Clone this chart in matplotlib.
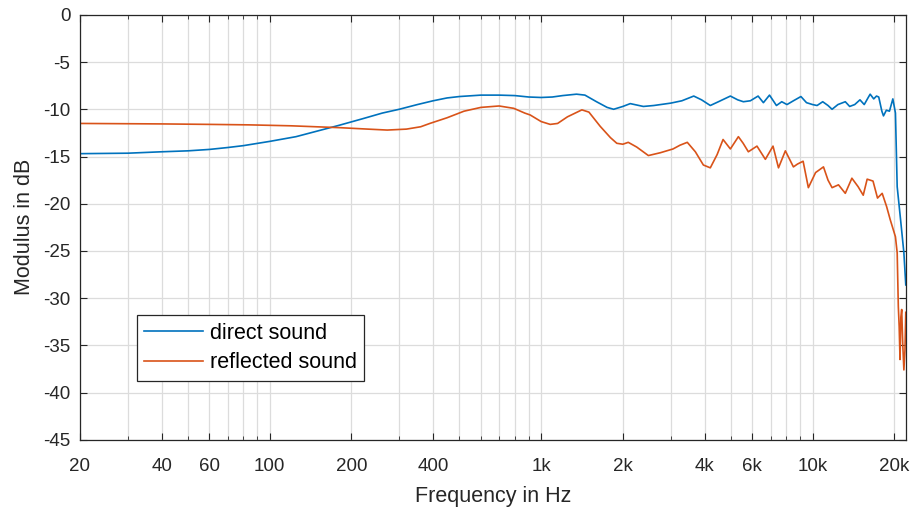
import numpy as np
import matplotlib.pyplot as plt
from matplotlib.ticker import FixedLocator, NullFormatter

plt.rcParams['font.family'] = ['Liberation Sans', 'DejaVu Sans']
plt.rcParams['axes.unicode_minus'] = False

# direct sound (blue)
f_direct = [20, 30, 40, 50, 60, 70, 80, 100, 125, 150, 180, 220, 260, 300, 350, 400,
            450, 500, 600, 700, 800, 900, 1000, 1100, 1200, 1350, 1450, 1600, 1750,
            1850, 2000, 2130, 2380, 2600, 3000, 3300, 3650, 3900, 4200, 4500, 4980,
            5300, 5560, 5900, 6300, 6590, 6940, 7360, 7700, 8050, 8500, 9060, 9500,
            10000, 10390, 10900, 11400, 11800, 12400, 13200, 13700, 14300, 14950,
            15500, 16000, 16300, 16800, 17200, 17530, 18000, 18250, 18700, 19200,
            19760, 20200, 20500, 21100, 21700, 22050]
db_direct = [-14.7, -14.65, -14.5, -14.4, -14.25, -14.05, -13.85, -13.4, -12.9, -12.3,
             -11.7, -11.0, -10.4, -10.0, -9.5, -9.1, -8.8, -8.65, -8.5, -8.5, -8.55,
             -8.7, -8.75, -8.7, -8.55, -8.4, -8.5, -9.2, -9.8, -10.0, -9.7, -9.4, -9.7,
             -9.6, -9.35, -9.1, -8.6, -9.0, -9.6, -9.2, -8.6, -9.0, -9.2, -9.1, -8.6,
             -9.3, -8.5, -9.6, -9.2, -9.5, -9.1, -8.65, -9.3, -9.5, -9.6, -9.2, -9.6,
             -10.0, -9.5, -9.2, -9.7, -9.5, -9.0, -9.5, -8.8, -8.4, -8.9, -8.6, -8.7,
             -10.2, -10.7, -10.1, -10.2, -8.9, -10.4, -18.2, -21.7, -25.2, -28.6]

# reflected sound (orange)
f_refl = [20, 40, 60, 84, 120, 182, 230, 271, 319, 360, 389, 450, 520, 600, 700, 793,
          870, 911, 1000, 1080, 1150, 1250, 1413, 1500, 1650, 1800, 1900, 2000, 2094,
          2250, 2484, 2750, 3062, 3250, 3455, 3700, 3960, 4200, 4450, 4680, 4980,
          5330, 5550, 5800, 6240, 6700, 7150, 7490, 7940, 8500, 8800, 9230, 9650,
          10260, 10970, 11400, 11800, 12460, 13200, 13960, 14720, 15370, 15890,
          16700, 17350, 18050, 18740, 19330, 20200, 20500, 20700, 20850, 21000,
          21150, 21300, 21500, 21700, 21900, 22050]
db_refl = [-11.5, -11.55, -11.6, -11.65, -11.75, -11.95, -12.1, -12.2, -12.1, -11.85,
           -11.5, -10.9, -10.2, -9.8, -9.65, -9.9, -10.4, -10.6, -11.3, -11.6, -11.5,
           -10.8, -10.06, -10.3, -11.8, -13.0, -13.6, -13.7, -13.5, -14.0, -14.9,
           -14.6, -14.2, -13.8, -13.5, -14.5, -15.9, -16.2, -14.8, -13.2, -14.2,
           -12.9, -13.6, -14.5, -13.9, -15.3, -13.9, -16.2, -14.4, -16.1, -15.8,
           -15.5, -18.3, -16.7, -16.1, -17.5, -18.3, -18.0, -18.9, -17.3, -18.2,
           -19.1, -17.4, -17.6, -19.4, -18.9, -20.3, -21.7, -23.5, -25.2, -30.9,
           -33.0, -36.5, -32.0, -31.2, -35.0, -37.6, -35.5, -31.5]

xticks = [20, 40, 60, 100, 200, 400, 1000, 2000, 4000, 6000, 10000, 20000]
xticklabels = ['20', '40', '60', '100', '200', '400', '1k', '2k', '4k', '6k', '10k', '20k']
minor_ticks = [30, 50, 70, 80, 90, 300, 500, 600, 700, 800, 900,
               3000, 5000, 7000, 8000, 9000]

fig = plt.figure(figsize=(9.14, 5.12), dpi=100)
ax = fig.add_axes([0.0875, 0.141, 0.9035, 0.830])

ax.plot(f_direct, db_direct, color='#0072BD', linewidth=1.2, label='direct sound')
ax.plot(f_refl, db_refl, color='#D95319', linewidth=1.2, label='reflected sound')

ax.set_xscale('log')
ax.set_xlim(20, 22050)
ax.set_ylim(-45, 0)
ax.xaxis.set_major_locator(FixedLocator(xticks))
ax.set_xticklabels(xticklabels)
ax.xaxis.set_minor_locator(FixedLocator(minor_ticks))
ax.xaxis.set_minor_formatter(NullFormatter())
ax.set_yticks(np.arange(-45, 1, 5))

ax.grid(True, which='both', color='#dcdcdc', linewidth=0.9)
ax.set_axisbelow(True)
ax.tick_params(which='both', direction='in', top=True, right=True, labelsize=13.5,
               color='#262626', labelcolor='#262626', length=5)
ax.tick_params(which='minor', length=3)
ax.tick_params(axis='x', which='major', pad=13)
ax.tick_params(axis='y', which='major', pad=7)
for s in ax.spines.values():
    s.set_color('#262626')
    s.set_linewidth(0.9)

ax.set_xlabel('Frequency in Hz', fontsize=15.5, color='#262626', labelpad=8)
ax.set_ylabel('Modulus in dB', fontsize=15.5, color='#262626', labelpad=6)

leg = ax.legend(loc='lower left', bbox_to_anchor=(0.069, 0.139), borderaxespad=0,
                fontsize=15.5, frameon=True, fancybox=False, edgecolor='#262626',
                framealpha=1, handlelength=2.74, handletextpad=0.3, borderpad=0.35,
                labelspacing=0.4)
leg.get_frame().set_linewidth(0.9)

fig.savefig('out.png', dpi=100)
